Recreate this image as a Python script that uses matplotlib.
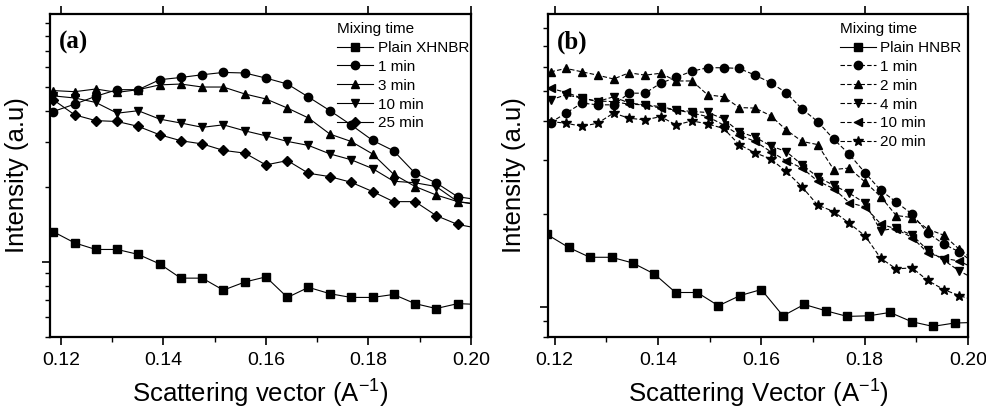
import matplotlib
matplotlib.use("Agg")
import matplotlib.pyplot as plt
from matplotlib.ticker import LogLocator, NullFormatter, MultipleLocator

plt.rcParams['font.family'] = ['Liberation Sans', 'DejaVu Sans']
plt.rcParams['mathtext.default'] = 'regular'

# q grid of the plain rubbers and panel (a)
q_a = [0.1185, 0.1227, 0.1268, 0.1310, 0.1351, 0.1393, 0.1434, 0.1476, 0.1517, 0.1559,
       0.1600, 0.1642, 0.1683, 0.1725, 0.1766, 0.1808, 0.1849, 0.1891, 0.1932, 0.1974, 0.2015]
# finer q grid of the filled samples in panel (b)
q_b = [0.1192, 0.1222, 0.1253, 0.1283, 0.1314, 0.1344, 0.1375, 0.1405, 0.1435, 0.1466,
       0.1496, 0.1527, 0.1557, 0.1588, 0.1618, 0.1648, 0.1679, 0.1709, 0.1740, 0.1770,
       0.1801, 0.1831, 0.1861, 0.1892, 0.1922, 0.1953, 0.1983, 0.2014]

# panel (a)
a_plain = [1.32, 1.19, 1.12, 1.12, 1.07, 0.98, 0.86, 0.86, 0.77, 0.83, 0.87, 0.72, 0.79,
           0.745, 0.72, 0.72, 0.74, 0.68, 0.65, 0.68, 0.675]
a_1min = [3.99, 4.27, 4.59, 4.88, 4.88, 5.35, 5.46, 5.60, 5.72, 5.69, 5.43, 5.14, 4.56,
          4.02, 3.53, 3.06, 2.78, 2.26, 2.07, 1.82, 1.77]
a_3min = [4.84, 4.79, 4.91, 4.76, 4.88, 5.10, 5.14, 5.00, 5.00, 4.69, 4.48, 4.12, 3.76,
          3.24, 3.03, 2.70, 2.24, 2.00, 1.85, 1.74, 1.70]
a_10min = [4.61, 4.52, 4.34, 3.93, 4.02, 3.72, 3.59, 3.45, 3.53, 3.34, 3.19, 3.03, 2.92,
           2.70, 2.56, 2.36, 2.10, 2.07, 2.00, 1.74, 1.69]
a_25min = [4.45, 3.87, 3.67, 3.64, 3.48, 3.22, 3.05, 2.96, 2.79, 2.72, 2.44, 2.54, 2.26,
           2.19, 2.08, 1.91, 1.74, 1.74, 1.53, 1.41, 1.36]

# panel (b)
b_plain = [1.72, 1.56, 1.45, 1.45, 1.39, 1.28, 1.115, 1.115, 1.01, 1.09, 1.14, 0.937, 1.02,
           0.973, 0.933, 0.937, 0.961, 0.897, 0.866, 0.888, 0.892]
b_1min = [3.96, 4.25, 4.58, 4.52, 4.52, 4.93, 4.93, 5.31, 5.55, 5.81, 5.96, 5.96, 5.93, 5.64,
          5.33, 4.95, 4.38, 3.99, 3.50, 3.13, 2.72, 2.39, 2.19, 2.00, 1.74, 1.60, 1.51, 1.38]
b_2min = [5.78, 5.93, 5.78, 5.64, 5.48, 5.74, 5.64, 5.72, 5.40, 5.40, 4.87, 4.80, 4.43, 4.41,
          4.17, 3.75, 3.44, 3.36, 2.79, 2.82, 2.54, 2.28, 1.98, 1.95, 1.79, 1.71, 1.54, 1.41]
b_4min = [4.69, 4.87, 4.75, 4.63, 4.80, 4.58, 4.52, 4.46, 4.35, 4.30, 4.27, 4.07, 3.70, 3.55,
          3.33, 3.19, 2.89, 2.64, 2.48, 2.34, 2.17, 1.77, 1.80, 1.71, 1.53, 1.42, 1.31, 1.23]
b_10min = [5.11, 4.96, 4.75, 4.65, 4.63, 4.54, 4.52, 4.41, 4.35, 4.25, 4.14, 3.89, 3.61, 3.44,
           3.19, 2.98, 2.82, 2.56, 2.42, 2.18, 2.11, 1.86, 1.79, 1.68, 1.50, 1.44, 1.41, 1.33]
b_20min = [3.99, 3.94, 3.85, 3.94, 4.25, 4.09, 4.04, 4.14, 3.89, 4.01, 3.92, 3.79, 3.36, 3.16,
           3.02, 2.75, 2.45, 2.14, 2.04, 1.87, 1.70, 1.44, 1.33, 1.34, 1.22, 1.14, 1.09, 1.05]

fig = plt.figure(figsize=(9.87, 4.11), dpi=100)
ax1 = fig.add_axes([0.0507, 0.180, 0.4265, 0.786])
ax2 = fig.add_axes([0.5552, 0.180, 0.4255, 0.786])

ms = 6
kw = dict(color='black', lw=0.8, markersize=ms)
dash = (0, (4, 2))

ax1.plot(q_a, a_plain, marker='s', label='Plain XHNBR', **kw)
ax1.plot(q_a, a_1min, marker='o', label='1 min', **kw)
ax1.plot(q_a, a_3min, marker='^', label='3 min', **kw)
ax1.plot(q_a, a_10min, marker='v', label='10 min', **kw)
ax1.plot(q_a, a_25min, marker='D', label='25 min', color='black', lw=0.8, markersize=5)

ax2.plot(q_a, b_plain, marker='s', label='Plain HNBR', **kw)
ax2.plot(q_b, b_1min, marker='o', ls=dash, label='1 min', **kw)
ax2.plot(q_b, b_2min, marker='^', ls=dash, label='2 min', **kw)
ax2.plot(q_b, b_4min, marker='v', ls=dash, label='4 min', **kw)
ax2.plot(q_b, b_10min, marker='<', ls=dash, label='10 min', **kw)
ax2.plot(q_b, b_20min, marker='*', ls=dash, label='20 min', color='black', lw=0.8, markersize=7.5)

panels = [(ax1, 0.1179, (0.5, 9.8), 'Scattering vector (A$^{-1}$)', '(a)', 0.682),
          (ax2, 0.1187, (0.8, 8.9), 'Scattering Vector (A$^{-1}$)', '(b)', 0.695)]

for ax, x0, ylim, xlab, tag, lx in panels:
    ax.set_xlim(x0, 0.20)
    ax.set_yscale('log')
    ax.set_ylim(*ylim)
    ax.xaxis.set_major_locator(MultipleLocator(0.02))
    ax.xaxis.set_minor_locator(MultipleLocator(0.01))
    ax.xaxis.set_major_formatter(plt.FuncFormatter(lambda v, p: '%.2f' % v))
    ax.yaxis.set_major_locator(LogLocator(base=10, numticks=10))
    ax.yaxis.set_minor_locator(LogLocator(base=10, subs=range(2, 10), numticks=10))
    ax.yaxis.set_major_formatter(NullFormatter())
    ax.yaxis.set_minor_formatter(NullFormatter())
    ax.tick_params(axis='x', which='major', direction='out', length=6, width=1.2,
                   labelsize=14, pad=5, top=True, bottom=True)
    ax.tick_params(axis='x', which='minor', direction='out', length=3.5, width=1.0)
    ax.tick_params(axis='y', which='major', direction='out', length=6, width=1.2)
    ax.tick_params(axis='y', which='minor', direction='out', length=3.5, width=1.0)
    for s in ax.spines.values():
        s.set_linewidth(1.6)
    ax.set_xlabel(xlab, fontsize=18.5, labelpad=6)
    ax.set_ylabel('Intensity (a.u)', fontsize=18.5, labelpad=6)
    ax.text(0.02, 0.913, tag, transform=ax.transAxes, fontsize=18, fontweight='bold',
            family='Liberation Serif', va='center', ha='left')
    leg = ax.legend(loc='upper left', bbox_to_anchor=(lx, 0.975), frameon=False,
                    title='Mixing time', title_fontsize=11, fontsize=11,
                    alignment='left', borderpad=0, borderaxespad=0,
                    handlelength=2.35, handletextpad=0.3, labelspacing=0.32)
    leg.set_clip_on(False)

fig.savefig('out.png', dpi=100)
